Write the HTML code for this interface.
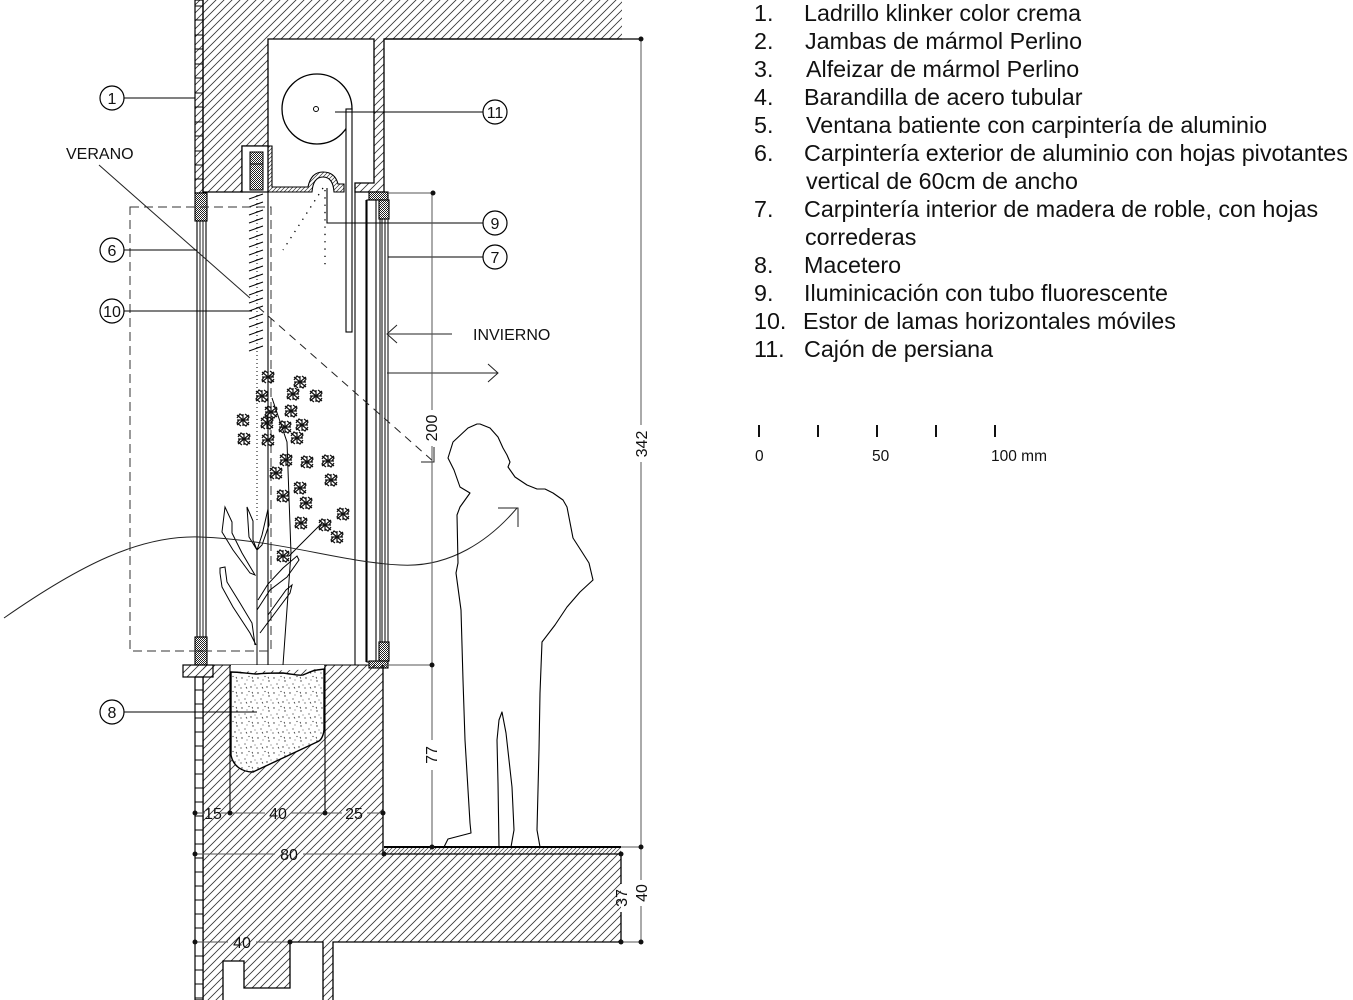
<!DOCTYPE html>
<html><head><meta charset="utf-8"><style>
html,body{margin:0;padding:0;background:#fff;}
svg{display:block;}
text{font-family:"Liberation Sans",Arial,sans-serif;fill:#111;}
</style></head><body>
<svg width="1353" height="1000" viewBox="0 0 1353 1000" xmlns="http://www.w3.org/2000/svg">
<defs>
<pattern id="h" patternUnits="userSpaceOnUse" width="8" height="8"><path d="M-1,1 L1,-1 M0,8 L8,0 M7,9 L9,7" stroke="#333" stroke-width="0.8"/></pattern>
<pattern id="hf" patternUnits="userSpaceOnUse" width="4" height="4"><path d="M-1,1 L1,-1 M0,4 L4,0 M3,5 L5,3" stroke="#333" stroke-width="0.7"/></pattern>
<pattern id="x" patternUnits="userSpaceOnUse" width="2" height="2"><rect width="2" height="2" fill="#fff"/><rect width="1" height="1" fill="#222"/><rect x="1" y="1" width="1" height="1" fill="#222"/></pattern>
<pattern id="st" patternUnits="userSpaceOnUse" width="16" height="15"><rect width="16" height="15" fill="#fff"/><g fill="#333"><circle cx="2" cy="3" r="0.7"/><circle cx="9" cy="1.5" r="0.6"/><circle cx="13" cy="6" r="0.7"/><circle cx="5" cy="9" r="0.6"/><circle cx="11" cy="12" r="0.7"/><circle cx="1" cy="13" r="0.6"/><circle cx="7" cy="5" r="0.5"/><circle cx="15" cy="10" r="0.5"/></g><path d="M6,12 l1,1.5 M12,2 l0.8,1.5" stroke="#333" stroke-width="0.8"/></pattern>
<g id="fl" stroke="#111" stroke-width="1.2" fill="none"><path d="M-6,-5 L6,5 M-6,5 L6,-5 M0,-6 L0,6 M-6,0 L6,0"/><path d="M-6,-2 L-3,-6 L0,-4 M2,-6 L6,-3 L4,0 M6,2 L3,6 L0,4 M-2,6 L-6,3 L-4,0"/></g>
</defs>

<!-- top brick strip -->
<rect x="195" y="0" width="8" height="193" fill="url(#h)" stroke="#000" stroke-width="1.2"/>
<path d="M195,6h8M195,20h8M195,35h8M195,49h8M195,64h8M195,78h8M195,93h8M195,107h8M195,122h8M195,136h8M195,151h8M195,165h8M195,179h8" stroke="#000" stroke-width="1"/>

<!-- top wall mass -->
<path d="M203,0 L622,0 L622,39 L384,39 L384,192 L355,192 L355,183 L374,183 L374,39 L268,39 L268,146 L242,146 L242,192 L203,192 Z" fill="url(#h)" stroke="none"/>
<path d="M622,39 L384,39 L384,192 L355,192 L355,183 L374,183 L374,39 L268,39 L268,146 L242,146 L242,192 L203,192 L203,0" fill="none" stroke="#000" stroke-width="1.3"/>
<line x1="384" y1="39" x2="641" y2="39" stroke="#000" stroke-width="1.2"/>

<!-- blind stack box -->
<rect x="242" y="146" width="26" height="46" fill="#fff" stroke="#000" stroke-width="1.2"/>
<rect x="250" y="152" width="13" height="38" fill="url(#x)" stroke="#000" stroke-width="1"/>
<line x1="250" y1="164" x2="263" y2="164" stroke="#000"/>
<!-- ledge with reflector -->
<path d="M268,146 L272,146 L272,187 L308,187 Q311,172 323,172 Q335,172 338,184 L344,184 L344,192 L334,192 Q333,177 323,177 Q313,177 312,192 L268,192 Z" fill="url(#hf)" stroke="#000" stroke-width="1.1"/>

<!-- roller box -->
<circle cx="317" cy="109" r="35" fill="none" stroke="#000" stroke-width="1.3"/>
<circle cx="316" cy="109" r="2.5" fill="#fff" stroke="#000" stroke-width="1"/>
<rect x="346" y="109" width="6" height="223" fill="#fff" stroke="#000" stroke-width="1.1"/>

<!-- light dotted -->
<path d="M323,188 L283,250" stroke="#000" stroke-width="1.3" stroke-dasharray="1.3,6" fill="none"/>
<path d="M325,190 L325,265" stroke="#000" stroke-width="1.3" stroke-dasharray="1.3,6" fill="none"/>

<!-- left window -->
<rect x="195" y="193" width="12" height="28" fill="url(#x)" stroke="#000" stroke-width="1.1"/>
<rect x="197" y="221" width="9" height="416" fill="#fff" stroke="#000" stroke-width="1.1"/>
<path d="M200,221V637M203,221V637" stroke="#000" stroke-width="0.9"/>
<rect x="195" y="637" width="12" height="28" fill="url(#x)" stroke="#000" stroke-width="1.1"/>
<line x1="195" y1="651" x2="207" y2="651" stroke="#000"/>

<!-- right window -->
<rect x="369" y="192" width="19" height="8" fill="url(#x)" stroke="#000" stroke-width="1.1"/>
<rect x="379" y="200" width="10" height="19" fill="url(#x)" stroke="#000" stroke-width="1.1"/>
<rect x="367" y="200" width="9" height="462" fill="none" stroke="#000" stroke-width="1.1"/>
<path d="M380,219V642M382,219V642M385,219V642M388,219V642" stroke="#000" stroke-width="1"/>
<rect x="379" y="642" width="10" height="19" fill="url(#x)" stroke="#000" stroke-width="1.1"/>
<rect x="369" y="661" width="19" height="7" fill="url(#x)" stroke="#000" stroke-width="1.1"/>
<path d="M355,192V665M366,200V662" stroke="#000" stroke-width="1.1"/>

<!-- blind lines -->
<path d="M268,192V665" stroke="#000" stroke-width="1.1"/>
<path d="M257,195V520" stroke="#000" stroke-width="1" stroke-dasharray="1,3"/>
<g stroke="#000" stroke-width="1">
<path d="M249,199L263,194M249,207L263,202M249,215L263,210M249,223L263,218M249,231L263,226M249,239L263,234M249,247L263,242M249,255L263,250M249,263L263,258M249,271L263,266M249,279L263,274M249,287L263,282M249,295L263,290M249,303L263,298M249,311L263,306M249,319L263,314M249,327L263,322M249,335L263,330M249,343L263,338M249,351L263,346"/>
</g>

<!-- dashed rect -->
<rect x="130" y="207" width="141" height="444" fill="none" stroke="#333" stroke-width="1" stroke-dasharray="9,5"/>

<!-- lower mass -->
<path d="M203,665 L383,665 L383,854 L621,854 L621,942 L333,942 L333,1000 L323,1000 L323,942 L290,942 L290,988 L244,988 L244,961 L223,961 L223,1000 L203,1000 Z" fill="url(#h)"/>
<path d="M383,665 L383,854 M621,854 L621,884 M621,912 L621,942 L333,942 L333,1000 M323,1000 L323,942 L290,942 L290,988 L244,988 L244,961 L223,961 L223,1000 M203,677 L203,1000" fill="none" stroke="#000" stroke-width="1.3"/>
<line x1="213" y1="665" x2="369" y2="665" stroke="#000" stroke-width="1.1"/>
<!-- floor finish -->
<rect x="384" y="847" width="237" height="7" fill="url(#hf)"/>
<line x1="384" y1="847" x2="621" y2="847" stroke="#000" stroke-width="2"/>
<line x1="384" y1="854" x2="621" y2="854" stroke="#000" stroke-width="1.2"/>
<!-- bottom brick strip -->
<rect x="195" y="677" width="8" height="323" fill="#fff" stroke="#000" stroke-width="1.2"/>
<path d="M195,690h8M195,704h8M195,718h8M195,732h8M195,746h8M195,760h8M195,774h8M195,788h8M195,802h8M195,816h8M195,830h8M195,844h8M195,858h8M195,872h8M195,886h8M195,900h8M195,914h8M195,928h8M195,942h8M195,956h8M195,970h8M195,984h8M195,998h8" stroke="#000" stroke-width="1"/>
<!-- sill -->
<rect x="183" y="665" width="30" height="12" fill="url(#h)" stroke="#000" stroke-width="1.2"/>

<!-- planter -->
<path d="M231,665 L324,665 L324,669 L231,672 Z" fill="#fff"/>
<path d="M231,672 C240,672 250,674 257,674 C265,673 276,673 283,673 C292,674 298,676 303,675 C310,672 314,670 317,670 L324,669 L324,730 C323,738 320,741 317,742 L253,772 C242,772 233,766 231,755 Z" fill="url(#st)" stroke="#000" stroke-width="1.4"/>
<path d="M230,665V813M325,665V813" stroke="#000" stroke-width="1.1"/>

<!-- plant -->
<g fill="none" stroke="#000" stroke-width="1">
<path d="M257,548V665"/>
<path d="M257,550 L249,537 L247,507 L253,521 L253,540 Z"/>
<path d="M257,550 L262,535 L268,509 L269,525 L262,545 Z"/>
<path d="M255,575 L242,553 L232,533 L232,522 L225,507 L222,532 L233,550 L250,573 Z"/>
<path d="M255,645 L252,623 L240,603 L227,582 L225,567 L220,568 L220,573 L222,587 L233,607 L250,633 L256,645"/>
<path d="M257,610 L270,590 L287,577 L299,560 L297,556 L283,568 L268,584 L258,600"/>
<path d="M260,633 L290,593 L292,585 L286,590 L268,615"/>
<path d="M283,665 L291,553 L287,442 L272,398"/>
<path d="M289,556 L322,523"/>
</g>
<g>
<use href="#fl" x="268" y="377"/><use href="#fl" x="300" y="382"/><use href="#fl" x="262" y="396"/>
<use href="#fl" x="293" y="394"/><use href="#fl" x="316" y="396"/><use href="#fl" x="271" y="412"/>
<use href="#fl" x="291" y="411"/><use href="#fl" x="243" y="420"/><use href="#fl" x="267" y="423"/>
<use href="#fl" x="285" y="427"/><use href="#fl" x="302" y="425"/><use href="#fl" x="297" y="438"/>
<use href="#fl" x="244" y="439"/><use href="#fl" x="268" y="440"/><use href="#fl" x="286" y="460"/>
<use href="#fl" x="307" y="462"/><use href="#fl" x="328" y="461"/><use href="#fl" x="276" y="473"/>
<use href="#fl" x="331" y="480"/><use href="#fl" x="300" y="488"/><use href="#fl" x="283" y="496"/>
<use href="#fl" x="306" y="503"/><use href="#fl" x="343" y="514"/><use href="#fl" x="301" y="523"/>
<use href="#fl" x="325" y="525"/><use href="#fl" x="337" y="537"/><use href="#fl" x="283" y="556"/>
</g>

<!-- sun curve -->
<path d="M4,618 C80,565 140,535 200,537 C280,540 340,562 400,565 C450,568 490,540 517,508" fill="none" stroke="#222" stroke-width="1"/>
<path d="M498,508 L518,508 L518,527" fill="none" stroke="#222" stroke-width="1"/>

<!-- verano ray -->
<path d="M99,165 L250,298" stroke="#222" stroke-width="1"/>
<path d="M258,307 L434,462" stroke="#222" stroke-width="1" stroke-dasharray="8,6"/>
<path d="M421,462 L434,462 L434,447" fill="none" stroke="#222" stroke-width="1"/>
<text x="66" y="159" font-size="16">VERANO</text>

<!-- invierno -->
<path d="M452,334 L387,334 M397,325 L387,334 L397,343" fill="none" stroke="#222" stroke-width="1"/>
<path d="M387,373 L498,373 M488,364 L498,373 L488,382" fill="none" stroke="#222" stroke-width="1"/>
<text x="473" y="340" font-size="16">INVIERNO</text>

<!-- person -->
<path d="M477,424 L468,428 L453,442 L448,458 L454,470 L460,487 L470,493 L460,507 L457,515 L458,563 L456,573 L461,610 L463,680 L465,740 L470,823 L471,833 L448,839 L444,847 L499,847 L498,783 L497,740 L499,720 L502,712 L506,733 L512,787 L514,830 L511,847 L540,847 L537,830 L539,750 L540,693 L542,642 L555,625 L567,607 L580,592 L593,580 L589,563 L582,552 L573,538 L567,507 L563,500 L553,493 L545,489 L537,489 L527,485 L515,477 L508,467 L510,462 L507,455 L503,448 L498,437 L490,428 L480,424 Z" fill="none" stroke="#000" stroke-width="1.1" stroke-linejoin="round"/>

<!-- leaders -->
<g fill="#fff" stroke="#000" stroke-width="1.2">
<circle cx="112" cy="98" r="12"/><circle cx="112" cy="250" r="12"/><circle cx="112" cy="311" r="12"/>
<circle cx="112" cy="712" r="12"/><circle cx="495" cy="112" r="12"/><circle cx="495" cy="223" r="12"/><circle cx="495" cy="257" r="12"/>
</g>
<path d="M124,98H195M124,250H197M124,311H252M124,712H257M335,112H483M327,188V223H483M388,257H483" stroke="#000" stroke-width="1.1" fill="none"/>
<g font-size="16" text-anchor="middle">
<text x="112" y="104">1</text><text x="112" y="256">6</text><text x="112" y="317">10</text>
<text x="112" y="718">8</text><text x="495" y="118">11</text><text x="495" y="229">9</text><text x="495" y="263">7</text>
</g>

<!-- dimensions -->
<g stroke="#555" stroke-width="1" fill="none">
<path d="M195,813H205M221,813H265M291,813H342M367,813H383"/>
<path d="M195,854H275M303,854H384"/>
<path d="M195,942H228M256,942H290"/>
<path d="M388,193H433M384,665H432"/>
<path d="M432,193V410M432,446V740M432,770V847"/>
<path d="M641,39V425M641,462V880M641,906V942"/>
<path d="M621,847H641M621,942H641"/>
</g>
<g fill="#111">
<circle cx="641" cy="39" r="2.5"/><circle cx="433" cy="193" r="2.5"/><circle cx="432" cy="665" r="2.5"/>
<circle cx="432" cy="847" r="2.5"/><circle cx="641" cy="847" r="2.5"/><circle cx="641" cy="942" r="2.5"/>
<circle cx="621" cy="854" r="2.5"/><circle cx="621" cy="942" r="2.5"/>
<circle cx="195" cy="813" r="2.5"/><circle cx="230" cy="813" r="2.5"/><circle cx="325" cy="813" r="2.5"/><circle cx="383" cy="813" r="2.5"/>
<circle cx="195" cy="854" r="2.5"/><circle cx="384" cy="854" r="2.5"/>
<circle cx="195" cy="942" r="2.5"/><circle cx="290" cy="942" r="2.5"/>
</g>
<g font-size="16" text-anchor="middle" fill="#222">
<text x="213" y="819">15</text><text x="278" y="819">40</text><text x="354" y="819">25</text>
<text x="289" y="860">80</text><text x="242" y="948">40</text>
<text transform="translate(437,428) rotate(-90)">200</text>
<text transform="translate(437,755) rotate(-90)">77</text>
<text transform="translate(647,444) rotate(-90)">342</text>
<text transform="translate(647,893) rotate(-90)">40</text>
<text transform="translate(627,898) rotate(-90)">37</text>
</g>

<!-- legend -->
<g font-size="23.3">
<text x="754" y="21">1.</text><text x="804" y="21">Ladrillo klinker color crema</text>
<text x="754" y="49">2.</text><text x="805" y="49">Jambas de mármol Perlino</text>
<text x="754" y="77">3.</text><text x="806" y="77">Alfeizar de mármol Perlino</text>
<text x="754" y="105">4.</text><text x="804" y="105">Barandilla de acero tubular</text>
<text x="754" y="133">5.</text><text x="806" y="133">Ventana batiente con carpintería de aluminio</text>
<text x="754" y="161">6.</text><text x="804" y="161">Carpintería exterior de aluminio con hojas pivotantes</text>
<text x="806" y="189">vertical de 60cm de ancho</text>
<text x="754" y="217">7.</text><text x="804" y="217">Carpintería interior de madera de roble, con hojas</text>
<text x="805" y="245">correderas</text>
<text x="754" y="273">8.</text><text x="804" y="273">Macetero</text>
<text x="754" y="301">9.</text><text x="804" y="301">Iluminicación con tubo fluorescente</text>
<text x="754" y="329">10.</text><text x="803" y="329">Estor de lamas horizontales móviles</text>
<text x="754" y="357">11.</text><text x="804" y="357">Cajón de persiana</text>
</g>

<!-- scale bar -->
<g fill="#111">
<rect x="758" y="425" width="2" height="12"/><rect x="817" y="425" width="2" height="12"/>
<rect x="876" y="425" width="2" height="12"/><rect x="935" y="425" width="2" height="12"/>
<rect x="994" y="425" width="2" height="12"/>
</g>
<g font-size="15.5" fill="#222">
<text x="755" y="461">0</text><text x="872" y="461">50</text><text x="991" y="461">100 mm</text>
</g>
</svg>
</body></html>
